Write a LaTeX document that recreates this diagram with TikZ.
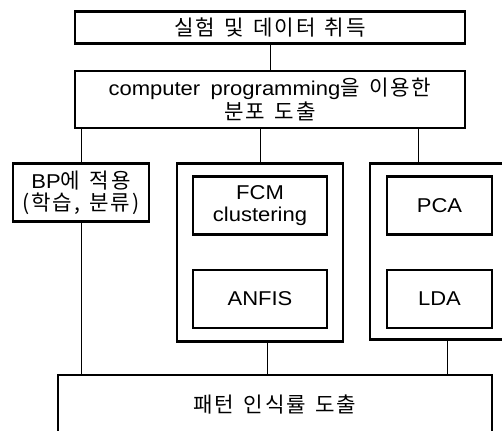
\documentclass[tikz,border=0pt]{standalone}
\usepackage{fontspec}
\setmainfont{Liberation Sans}[FakeStretch=1.1, WordSpace=1.7]
\newfontfamily\kr{Noto Sans CJK KR}[Scale=1.06, LetterSpace=9, WordSpace=1.4]
\newcommand{\K}[1]{{\kr #1}}
\begin{document}
\begin{tikzpicture}[x=1pt,y=-1pt,
  box/.style={draw, line width=2.4pt, rectangle, inner sep=0pt, align=center, font=\fontsize{20}{22}\selectfont},
  grp/.style={draw, line width=2.6pt, rectangle, inner sep=0pt},
  conn/.style={line width=0.9pt}]
\useasboundingbox (0,0) rectangle (502,430);
\fill[white] (0,0) rectangle (502,430);
\begin{scope}
\clip (0,0) rectangle (502,430);
\node[box, minimum width=390pt, minimum height=32pt] (top) at (270,27.5) {\K{실험 및 데이터 취득}};
\node[box, minimum width=390pt, minimum height=57pt] (dist) at (270,99.5) {computer programming\K{을 이용한}\\[2pt]\K{분포 도출}};
\node[box, minimum width=136pt, minimum height=58pt] (bp) at (81,192.5) {BP\K{에 적용}\\\K{(학습, 분류)}};
\node[grp, minimum width=166pt, minimum height=178pt] (g1) at (260,252.5) {};
\node[grp, minimum width=160pt, minimum height=176pt] (g2) at (450,251.5) {};
\node[box, minimum width=134pt, minimum height=58pt] (fcm) at (260,205.5) {FCM\\clustering};
\node[box, minimum width=134pt, minimum height=58pt] (anfis) at (260,299) {ANFIS};
\node[box, minimum width=105pt, minimum height=58pt] (pca) at (439.5,205.5) {PCA};
\node[box, minimum width=105pt, minimum height=58pt] (lda) at (439.5,299) {LDA};
\node[box, minimum width=434pt, minimum height=70pt] (res) at (275,410) {};
\node[font=\fontsize{20}{22}\selectfont] (restext) at (275,405) {\K{패턴 인식률 도출}};
\draw[conn] (top.south) -- (dist.north);
\draw[conn] (dist.south -| bp.north) -- (bp.north);
\draw[conn] (dist.south -| g1.north) -- (g1.north);
\draw[conn] (dist.south -| 418,0) -- (418,163);
\draw[conn] (bp.south) -- (bp.south |- res.north);
\draw[conn] (g1.south -| 267,0) -- (267,375);
\draw[conn] (447,340) -- (447,375);
\end{scope}
\end{tikzpicture}
\end{document}
